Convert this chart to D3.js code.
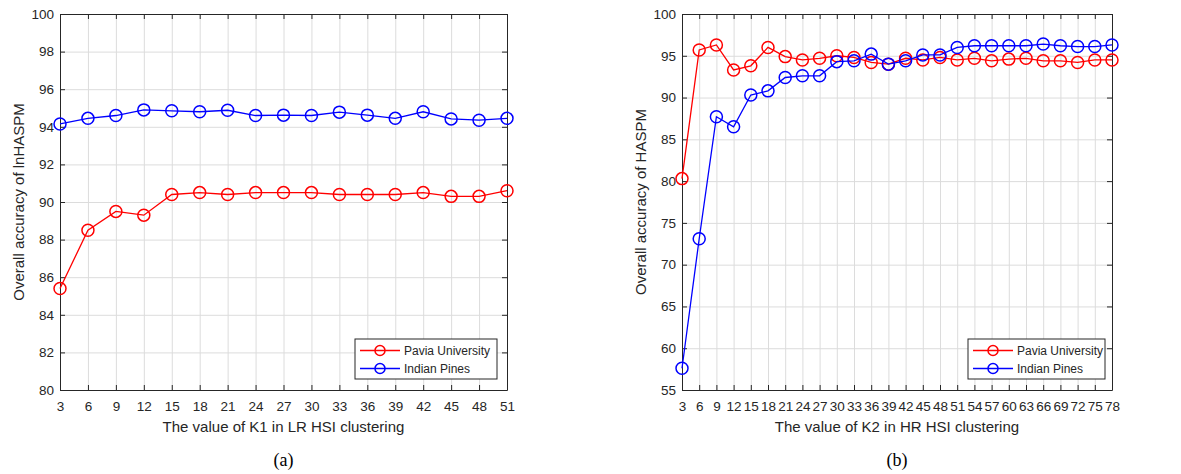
<!DOCTYPE html>
<html>
<head>
<meta charset="utf-8">
<script src="https://cdn.jsdelivr.net/npm/d3@7"></script>
<style>
  body { margin: 0; background: #fff; }
  text { font-family: "Liberation Sans", Arial, Helvetica, sans-serif; fill: #262626; }
</style>
</head>
<body>
<svg id="chart" width="1181" height="474"></svg>
<script>
// K values on the x axes
const kLeft = [3, 6, 9, 12, 15, 18, 21, 24, 27, 30, 33, 36, 39, 42, 45, 48, 51]
const kRight = [3, 6, 9, 12, 15, 18, 21, 24, 27, 30, 33, 36, 39, 42, 45, 48, 51,
  54, 57, 60, 63, 66, 69, 72, 75, 78]

// (a) overall accuracy of lnHASPM vs K1
const paviaLeft = [85.4, 88.5, 89.5, 89.3, 90.4, 90.5, 90.4, 90.5, 90.5, 90.5,
  90.4, 90.4, 90.4, 90.5, 90.3, 90.3, 90.6]
const indianLeft = [94.15, 94.45, 94.6, 94.9, 94.85, 94.8, 94.88, 94.6, 94.62, 94.6,
  94.78, 94.62, 94.45, 94.8, 94.42, 94.35, 94.45]

// (b) overall accuracy of HASPM vs K2
const paviaRight = [80.3, 95.7, 96.3, 93.3, 93.8, 96.0, 94.9, 94.5, 94.7, 95.0,
  94.8, 94.2, 94.0, 94.7, 94.5, 94.8, 94.5, 94.7, 94.4, 94.6, 94.7, 94.4, 94.4,
  94.2, 94.5, 94.5]
const indianRight = [57.6, 73.1, 87.7, 86.5, 90.3, 90.8, 92.4, 92.6, 92.6, 94.3,
  94.4, 95.2, 94.0, 94.4, 95.1, 95.1, 96.0, 96.2, 96.2, 96.2, 96.2, 96.4, 96.2,
  96.1, 96.1, 96.3]

const yTicksLeft = [80, 82, 84, 86, 88, 90, 92, 94, 96, 98, 100]
const yTicksRight = [55, 60, 65, 70, 75, 80, 85, 90, 95, 100]
const legendLabels = ['Pavia University', 'Indian Pines']
const seriesColors = ['#ff0000', '#0000ff']

const svg = d3.select('#chart')
svg.append('rect').attr('width', 1181).attr('height', 474).attr('fill', '#fff')

function drawPanel(opts) {
  const { left, right, top, bottom } = opts
  const width = right - left
  const height = bottom - top

  const x = d3.scaleLinear().domain(d3.extent(opts.k)).range([0, width])
  const y = d3.scaleLinear().domain(d3.extent(opts.yTicks)).range([height, 0])

  const g = svg.append('g').attr('transform', `translate(${left},${top})`)

  // grid lines
  g.append('g')
    .attr('transform', `translate(0,${height})`)
    .call(d3.axisBottom(x).tickValues(opts.k).tickSize(-height).tickFormat(''))
    .call(a => a.select('.domain').remove())
    .call(a => a.selectAll('line').attr('stroke', '#dcdcdc').attr('stroke-width', 1))
  g.append('g')
    .call(d3.axisLeft(y).tickValues(opts.yTicks).tickSize(-width).tickFormat(''))
    .call(a => a.select('.domain').remove())
    .call(a => a.selectAll('line').attr('stroke', '#dcdcdc').attr('stroke-width', 1))

  // axes with inward ticks on all four sides (box on)
  const tick = 5
  const styleAxis = a => {
    a.select('.domain').attr('stroke', '#262626').attr('stroke-width', 1)
    a.selectAll('.tick line').attr('stroke', '#262626')
    a.selectAll('text').style('font-size', '13.5px').attr('fill', '#262626')
  }
  g.append('g')
    .attr('transform', `translate(0,${height})`)
    .call(d3.axisBottom(x).tickValues(opts.k).tickSizeInner(-tick).tickSizeOuter(0).tickPadding(11))
    .call(styleAxis)
  g.append('g')
    .call(d3.axisTop(x).tickValues(opts.k).tickSizeInner(-tick).tickSizeOuter(0).tickFormat(''))
    .call(styleAxis)
  g.append('g')
    .call(d3.axisLeft(y).tickValues(opts.yTicks).tickSizeInner(-tick).tickSizeOuter(0).tickPadding(6))
    .call(styleAxis)
  g.append('g')
    .attr('transform', `translate(${width},0)`)
    .call(d3.axisRight(y).tickValues(opts.yTicks).tickSizeInner(-tick).tickSizeOuter(0).tickFormat(''))
    .call(styleAxis)

  // series
  const line = d3.line().x(d => x(d[0])).y(d => y(d[1]))
  opts.series.forEach((vals, i) => {
    const pts = opts.k.map((k, j) => [k, vals[j]])
    g.append('path')
      .datum(pts)
      .attr('fill', 'none')
      .attr('stroke', seriesColors[i])
      .attr('stroke-width', 1.3)
      .attr('d', line)
    g.selectAll(null)
      .data(pts)
      .enter()
      .append('circle')
      .attr('cx', d => x(d[0]))
      .attr('cy', d => y(d[1]))
      .attr('r', 6)
      .attr('fill', 'none')
      .attr('stroke', seriesColors[i])
      .attr('stroke-width', 1.5)
  })

  // axis titles
  g.append('text')
    .attr('x', width / 2)
    .attr('y', height + 42)
    .attr('text-anchor', 'middle')
    .style('font-size', '15px')
    .text(opts.xTitle)
  g.append('text')
    .attr('transform', `translate(-41,${height / 2}) rotate(-90)`)
    .attr('dy', '0.35em')
    .attr('text-anchor', 'middle')
    .style('font-size', '15px')
    .text(opts.yTitle)

  // caption under the panel
  g.append('text')
    .attr('x', width / 2)
    .attr('y', height + 76)
    .attr('text-anchor', 'middle')
    .style('font-family', '"Liberation Serif", "Times New Roman", serif')
    .style('font-size', '18px')
    .style('fill', '#000')
    .text(opts.caption)

  // legend
  const lw = opts.legendWidth
  const lh = 40
  const legend = g.append('g')
    .attr('transform', `translate(${width - opts.legendInset - lw},${height - 11 - lh})`)
  legend.append('rect')
    .attr('width', lw).attr('height', lh)
    .attr('fill', '#fff').attr('stroke', '#262626').attr('stroke-width', 1)
  legendLabels.forEach((label, i) => {
    const ly = 11.5 + i * 18
    legend.append('line')
      .attr('x1', 5).attr('x2', 45).attr('y1', ly).attr('y2', ly)
      .attr('stroke', seriesColors[i]).attr('stroke-width', 1.3)
    legend.append('circle')
      .attr('cx', 25).attr('cy', ly).attr('r', 5)
      .attr('fill', 'none').attr('stroke', seriesColors[i]).attr('stroke-width', 1.5)
    legend.append('text')
      .attr('x', 49).attr('y', ly).attr('dy', '0.35em')
      .style('font-size', '12px')
      .text(label)
  })
}

drawPanel({
  left: 60, right: 507, top: 14, bottom: 390,
  k: kLeft, yTicks: yTicksLeft,
  series: [paviaLeft, indianLeft],
  xTitle: 'The value of K1 in LR HSI clustering',
  yTitle: 'Overall accuracy of lnHASPM',
  caption: '(a)',
  legendWidth: 142, legendInset: 10
})

drawPanel({
  left: 682, right: 1112, top: 14, bottom: 390,
  k: kRight, yTicks: yTicksRight,
  series: [paviaRight, indianRight],
  xTitle: 'The value of K2 in HR HSI clustering',
  yTitle: 'Overall accuracy of HASPM',
  caption: '(b)',
  legendWidth: 137, legendInset: 7
})
</script>
</body>
</html>
